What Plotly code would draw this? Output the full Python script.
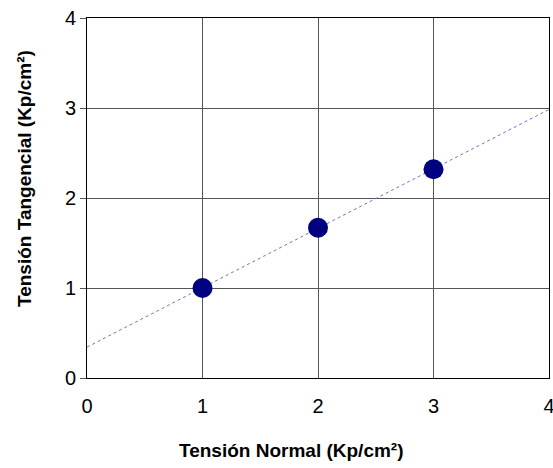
import numpy as np
import plotly.graph_objects as go

# Ensayo de corte: tensión normal vs. tensión tangencial
tension_normal = [1, 2, 3]
tension_tangencial = [1.0, 1.67, 2.32]
eje_ticks = [0, 1, 2, 3, 4]

# Recta de ajuste por mínimos cuadrados
pendiente, ordenada = np.polyfit(tension_normal, tension_tangencial, 1)
x_ajuste = np.array([0, 4])
y_ajuste = ordenada + pendiente * x_ajuste

font_family = "Liberation Sans, Arial, sans-serif"
W, H = 553, 468
M_L, M_R, M_T, M_B = 87, 4, 18, 90
plot_w = W - M_L - M_R
plot_h = H - M_T - M_B


def paper_x(px):
    return (px - M_L) / plot_w


def paper_y(py):
    return (H - M_B - py) / plot_h


fig = go.Figure()
fig.add_trace(go.Scatter(
    x=x_ajuste, y=y_ajuste, mode="lines",
    line=dict(color="#7070d0", width=1, dash="dot"),
    hoverinfo="skip", showlegend=False,
))
fig.add_trace(go.Scatter(
    x=tension_normal, y=tension_tangencial, mode="markers",
    marker=dict(color="#000080", size=20),
    showlegend=False,
))

axis_common = dict(
    range=[0, 4], tickvals=eje_ticks, ticktext=[str(v) for v in eje_ticks],
    showgrid=True, gridcolor="#555555", gridwidth=1,
    showline=True, linecolor="#000000", linewidth=1, mirror=True,
    zeroline=False, automargin=False,
    tickfont=dict(family=font_family, size=20, color="#000000"),
)

title_font = dict(family=font_family, size=19, color="#000000")

fig.update_layout(
    width=W, height=H,
    margin=dict(l=M_L, r=M_R, t=M_T, b=M_B),
    paper_bgcolor="white", plot_bgcolor="white",
    xaxis=dict(
        **axis_common, ticks="", ticklen=0, ticklabeloverflow="allow",
        ticklabelstandoff=10,
    ),
    yaxis=dict(
        **axis_common, ticks="outside", ticklen=6, tickcolor="#555555",
    ),
    annotations=[
        dict(text="<b>Tensión Normal (Kp/cm²)</b>", xref="paper", yref="paper",
             x=paper_x(291), y=paper_y(450), xanchor="center", yanchor="middle",
             showarrow=False, font=title_font),
        dict(text="<b>Tensión Tangencial (Kp/cm²)</b>", xref="paper", yref="paper",
             x=paper_x(24), y=paper_y(179), xanchor="center", yanchor="middle",
             textangle=-90, showarrow=False, font=title_font),
    ],
)

fig.write_html("out.html")
